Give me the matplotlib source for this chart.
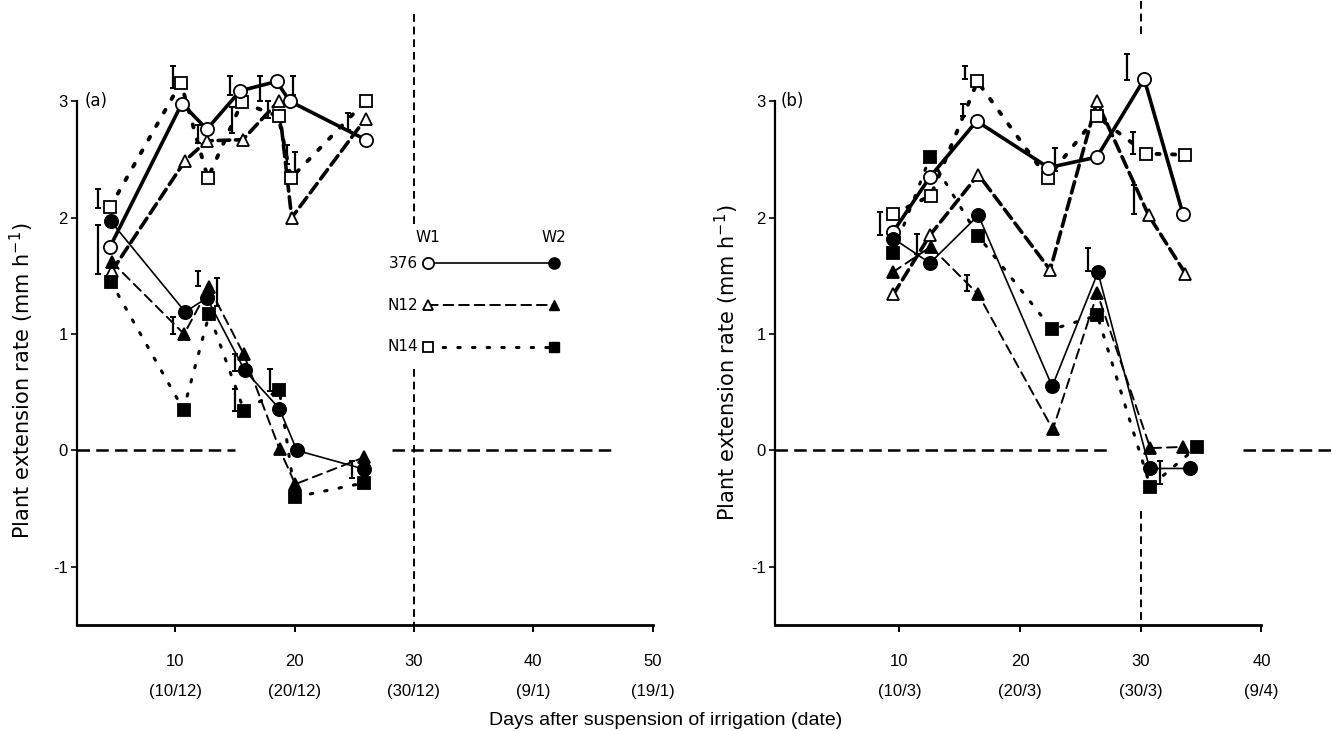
import matplotlib
matplotlib.use("Agg")
import matplotlib.pyplot as plt
from matplotlib import font_manager

names = {f.name for f in font_manager.fontManager.ttflist}
NARROW = "Liberation Sans Narrow" if "Liberation Sans Narrow" in names else "Liberation Sans"

# ---- panel (a): Dec sowing -------------------------------------------------
a_376_w1_x = [4.55, 10.56, 12.66, 15.45, 18.5, 19.6, 25.95]
a_376_w1_y = [1.75, 2.98, 2.76, 3.09, 3.17, 3.00, 2.67]
a_n12_w1_x = [4.69, 10.84, 12.66, 15.67, 18.66, 19.76, 25.95]
a_n12_w1_y = [1.54, 2.49, 2.66, 2.67, 3.00, 2.00, 2.85]
a_n14_w1_x = [4.55, 10.48, 12.74, 15.59, 18.66, 19.7, 25.95]
a_n14_w1_y = [2.09, 3.16, 2.34, 2.99, 2.87, 2.34, 3.00]
a_376_w2_x = [4.6, 10.84, 12.66, 15.81, 18.72, 20.2, 25.8]
a_376_w2_y = [1.97, 1.19, 1.31, 0.69, 0.36, 0.00, -0.16]
a_n12_w2_x = [4.69, 10.75, 12.85, 15.73, 18.75, 20.06, 25.8]
a_n12_w2_y = [1.62, 1.00, 1.40, 0.83, 0.01, -0.29, -0.06]
a_n14_w2_x = [4.6, 10.7, 12.85, 15.78, 18.72, 20.06, 25.8]
a_n14_w2_y = [1.45, 0.35, 1.17, 0.34, 0.52, -0.40, -0.28]

a_err_x = [3.57, 3.57, 9.81, 11.93, 14.61, 14.75, 17.12, 17.8, 19.36, 19.89, 20.06, 24.5,
           11.9, 13.5, 9.86, 15.03, 15.03, 17.96, 24.8]
a_err_hi = [2.25, 1.94, 3.30, 2.80, 3.22, 2.95, 3.22, 3.00, 2.62, 3.22, 2.56, 2.90,
            1.54, 1.48, 1.15, 0.83, 0.53, 0.70, -0.09]
a_err_lo = [2.08, 1.52, 3.11, 2.64, 3.05, 2.73, 3.00, 2.86, 2.46, 3.05, 2.34, 2.75,
            1.41, 1.24, 1.00, 0.68, 0.34, 0.51, -0.24]

# ---- panel (b): Mar sowing -------------------------------------------------
b_376_w1_x = [9.49, 12.53, 16.4, 22.35, 26.36, 30.29, 33.5]
b_376_w1_y = [1.88, 2.35, 2.83, 2.43, 2.52, 3.19, 2.03]
b_n12_w1_x = [9.49, 12.53, 16.54, 22.49, 26.36, 30.65, 33.7]
b_n12_w1_y = [1.34, 1.85, 2.37, 1.55, 3.00, 2.02, 1.52]
b_n14_w1_x = [9.49, 12.6, 16.46, 22.27, 26.36, 30.46, 33.7]
b_n14_w1_y = [2.03, 2.19, 3.17, 2.34, 2.87, 2.55, 2.54]
b_376_w2_x = [9.49, 12.53, 16.54, 22.66, 26.45, 30.73, 34.05]
b_376_w2_y = [1.82, 1.61, 2.02, 0.55, 1.53, -0.155, -0.155]
b_n12_w2_x = [9.43, 12.59, 16.54, 22.71, 26.4, 30.79, 33.5]
b_n12_w2_y = [1.53, 1.75, 1.34, 0.18, 1.35, 0.02, 0.03]
b_n14_w2_x = [9.49, 12.53, 16.54, 22.66, 26.4, 30.79, 34.66]
b_n14_w2_y = [1.70, 2.52, 1.84, 1.04, 1.16, -0.31, 0.03]

b_err_x = [8.38, 11.43, 15.27, 15.4, 15.6, 22.9, 28.82, 29.35, 29.4, 25.62, 31.6]
b_err_hi = [2.05, 1.86, 2.98, 3.30, 1.51, 2.60, 3.41, 2.74, 2.28, 1.74, -0.09]
b_err_lo = [1.85, 1.69, 2.87, 3.19, 1.37, 2.40, 3.18, 2.55, 2.03, 1.54, -0.29]

a_ticks = [10, 20, 30, 40, 50]
a_dates = ["(10/12)", "(20/12)", "(30/12)", "(9/1)", "(19/1)"]
b_ticks = [10, 20, 30, 40]
b_dates = ["(10/3)", "(20/3)", "(30/3)", "(9/4)"]

# line / marker styles per cultivar x treatment
styles = {
    "376_w1": dict(ls="-", lw=2.6, marker="o", mfc="white", ms=9.5),
    "n12_w1": dict(ls=(0, (3.2, 1.6)), lw=2.6, marker="^", mfc="white", ms=8.5),
    "n14_w1": dict(ls=(0, (0.8, 3.2)), lw=2.8, marker="s", mfc="white", ms=8),
    "376_w2": dict(ls="-", lw=1.2, marker="o", mfc="black", ms=9.5),
    "n12_w2": dict(ls=(0, (5, 3)), lw=1.4, marker="^", mfc="black", ms=8.5),
    "n14_w2": dict(ls=(0, (0.8, 4)), lw=2.2, marker="s", mfc="black", ms=8),
}


def draw(ax, series, errs):
    ex, ehi, elo = errs
    mid = [(h + l) / 2 for h, l in zip(ehi, elo)]
    half = [(h - l) / 2 for h, l in zip(ehi, elo)]
    ax.errorbar(ex, mid, yerr=half, fmt="none", ecolor="black",
                elinewidth=1.6, capsize=2.5, capthick=1.4, zorder=2)
    for key, (x, y) in series.items():
        st = styles[key]
        ax.plot(x, y, color="black", linestyle=st["ls"], linewidth=st["lw"],
                dash_capstyle="round", zorder=3)
        ax.plot(x, y, linestyle="none", marker=st["marker"], ms=st["ms"],
                mfc=st["mfc"], mec="black", mew=1.3, zorder=4)


def style_axes(ax, xlim, ticks, dates):
    ax.set_xlim(*xlim)
    ax.set_ylim(-1.5, 3.87)
    for s in ("top", "right"):
        ax.spines[s].set_visible(False)
    ax.spines["left"].set_bounds(-1.5, 3)
    ax.spines["left"].set_linewidth(1.6)
    ax.spines["bottom"].set_linewidth(2.0)
    ax.set_yticks([-1, 0, 1, 2, 3])
    ax.set_yticklabels(["-1", "0", "1", "2", "3"], family=NARROW, fontsize=12)
    ax.set_xticks(ticks)
    ax.set_xticklabels([f"{t}\n{d}" for t, d in zip(ticks, dates)],
                       family=NARROW, fontsize=12, linespacing=2.25)
    ax.tick_params(axis="x", direction="out", length=5, width=1.4, pad=16)
    ax.tick_params(axis="y", direction="out", length=4, width=1.2, pad=3)
    ax.set_facecolor("none")


fig = plt.figure(figsize=(13.32, 7.31), dpi=100)
axa = fig.add_axes([0.058, 0.145, 0.432, 0.855])
axb = fig.add_axes([0.582, 0.145, 0.365, 0.855])

# reference lines (zero growth and day 30)
zkw = dict(color="black", lw=1.8, linestyle=(0, (5, 2.5)), zorder=1, clip_on=False)
axa.plot([1.8, 15.0], [0, 0], **zkw)
axa.plot([28.2, 46.6], [0, 0], **zkw)
axb.plot([-0.3, 27.2], [0, 0], **zkw)
axb.plot([38.5, 46.0], [0, 0], **zkw)
vkw = dict(color="black", lw=1.4, linestyle=(0, (4, 2.5)), zorder=1)
axa.plot([30, 30], [3.75, 1.92], **vkw)
axa.plot([30, 30], [0.70, -1.5], **vkw)
axb.plot([30, 30], [3.86, 3.58], **vkw)
axb.plot([30, 30], [-0.52, -1.5], **vkw)

draw(axa, {
    "n14_w1": (a_n14_w1_x, a_n14_w1_y),
    "n12_w1": (a_n12_w1_x, a_n12_w1_y),
    "376_w1": (a_376_w1_x, a_376_w1_y),
    "n14_w2": (a_n14_w2_x, a_n14_w2_y),
    "n12_w2": (a_n12_w2_x, a_n12_w2_y),
    "376_w2": (a_376_w2_x, a_376_w2_y),
}, (a_err_x, a_err_hi, a_err_lo))

draw(axb, {
    "n14_w1": (b_n14_w1_x, b_n14_w1_y),
    "n12_w1": (b_n12_w1_x, b_n12_w1_y),
    "376_w1": (b_376_w1_x, b_376_w1_y),
    "n14_w2": (b_n14_w2_x, b_n14_w2_y),
    "n12_w2": (b_n12_w2_x, b_n12_w2_y),
    "376_w2": (b_376_w2_x, b_376_w2_y),
}, (b_err_x, b_err_hi, b_err_lo))

style_axes(axa, (1.8, 50), a_ticks, a_dates)
style_axes(axb, (-0.3, 40), b_ticks, b_dates)

ylab = "Plant extension rate (mm h$^{-1}$)"
for ax, tag, lx, ly in ((axa, "(a)", -0.096, 0.39), (axb, "(b)", -0.099, 0.42)):
    ax.text(0.012, 3.0, tag, fontsize=12, va="center", ha="left",
            transform=ax.get_yaxis_transform())
    ax.text(lx, ly, ylab, rotation=90, ha="center", va="center",
            fontsize=15, transform=ax.transAxes)

# hand-made key inside panel (a)
x1, x2 = 0.610, 0.829
axa.text(x1, 0.608, "W1", transform=axa.transAxes, ha="center", va="bottom", fontsize=11)
axa.text(x2, 0.608, "W2", transform=axa.transAxes, ha="center", va="bottom", fontsize=11)
key_rows = [("376", "376_w1", "376_w2", 0.579),
            ("N12", "n12_w1", "n12_w2", 0.512),
            ("N14", "n14_w1", "n14_w2", 0.445)]
for label, k1, k2, yy in key_rows:
    s1, s2 = styles[k1], styles[k2]
    axa.plot([x1, x2], [yy, yy], transform=axa.transAxes, color="black",
             linestyle=s2["ls"], lw=s2["lw"], dash_capstyle="round", zorder=3)
    axa.plot([x1], [yy], transform=axa.transAxes, marker=s1["marker"],
             ms=s1["ms"] * 0.85, mfc="white", mec="black", mew=1.3, zorder=4)
    axa.plot([x2], [yy], transform=axa.transAxes, marker=s2["marker"],
             ms=s2["ms"] * 0.85, mfc="black", mec="black", zorder=4)
    axa.text(x1 - 0.018, yy, label, transform=axa.transAxes, ha="right",
             va="center", fontsize=11)

fig.text(0.5, 0.015, "Days after suspension of irrigation (date)",
         ha="center", va="center", family=NARROW, fontsize=14)

fig.savefig("out.png", dpi=100, facecolor="white")
